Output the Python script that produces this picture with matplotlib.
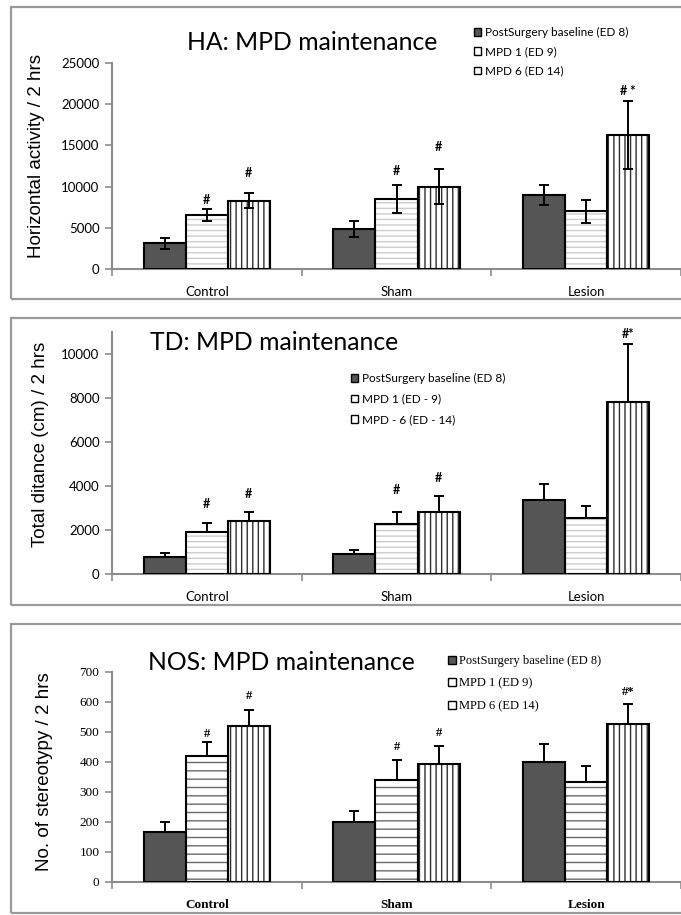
import numpy as np
import matplotlib
matplotlib.use("Agg")
from matplotlib import pyplot as plt
from matplotlib.patches import Rectangle, Patch

W, H = 681, 915

categories = ["Control", "Sham", "Lesion"]

# HA: horizontal activity
ha_labels = ["PostSurgery baseline (ED 8)", "MPD 1 (ED 9)", "MPD 6 (ED 14)"]
ha_base = [3100, 4850, 9000]
ha_base_err = [650, 1000, 1230]
ha_mpd1 = [6550, 8540, 6980]
ha_mpd1_err = [700, 1700, 1400]
ha_mpd6 = [8280, 10000, 16280]
ha_mpd6_err = [920, 2120, 4120]
ha_mpd1_mark = ["#", "#", ""]
ha_mpd1_mark_y = [8400, 11850, 0]
ha_mpd6_mark = ["#", "#", "# *"]
ha_mpd6_mark_y = [11650, 14770, 21600]
ha_yticks = [0, 5000, 10000, 15000, 20000, 25000]

# TD: total distance
td_labels = ["PostSurgery baseline (ED 8)", "MPD 1 (ED - 9)", "MPD - 6 (ED - 14)"]
td_base = [755, 900, 3370]
td_base_err = [195, 200, 720]
td_mpd1 = [1890, 2280, 2540]
td_mpd1_err = [425, 530, 545]
td_mpd6 = [2390, 2840, 7830]
td_mpd6_err = [450, 700, 2620]
td_mpd1_mark = ["#", "#", ""]
td_mpd1_mark_y = [3190, 3820, 0]
td_mpd6_mark = ["#", "#", "#*"]
td_mpd6_mark_y = [3645, 4350, 10900]
td_yticks = [0, 2000, 4000, 6000, 8000, 10000]

# NOS: number of stereotypy
nos_labels = ["PostSurgery baseline (ED 8)", "MPD 1 (ED 9)", "MPD 6 (ED 14)"]
nos_base = [167, 201, 400]
nos_base_err = [32, 35, 60]
nos_mpd1 = [420, 341, 334]
nos_mpd1_err = [47, 66, 54]
nos_mpd6 = [521, 394, 527]
nos_mpd6_err = [54, 60, 66]
nos_mpd1_mark = ["#", "#", ""]
nos_mpd1_mark_y = [494, 451, 0]
nos_mpd6_mark = ["#", "#", "#*"]
nos_mpd6_mark_y = [620, 498, 634]
nos_yticks = [0, 100, 200, 300, 400, 500, 600, 700]

plt.rcParams['hatch.linewidth'] = 1.0

GRAY = '#8c8c8c'
CAT_PX = 194.0   # width of one category in pixels
AX_LEFT = 112

fig = plt.figure(figsize=(W / 100, H / 100), dpi=100)


def px_axes(top, bottom):
	return fig.add_axes([AX_LEFT / W, 1 - bottom / H, (W - AX_LEFT) / W, (bottom - top) / H])


def frame(top, bottom):
	fig.add_artist(Rectangle((11 / W, 1 - bottom / H), 1.2, (bottom - top) / H,
		transform=fig.transFigure, fill=False, edgecolor='#9a9a9a', linewidth=1.6))


def panel(ax, series, errs, marks, mark_ys, ymax, yticks, upper_only, font, xweight, hatch1):
	x = np.arange(len(categories))
	bw = 43 / CAT_PX
	styles = [('#555555', '#555555', None), ('white', hatch1[1], hatch1[0]), ('white', '#2e2e2e', '|||')]
	for i in range(3):
		xs = x + (i - 1) * bw
		face, hcol, hatch = styles[i]
		ax.bar(xs, series[i], bw, color=face, edgecolor=hcol, hatch=hatch, linewidth=0, zorder=2)
		ax.bar(xs, series[i], bw, fill=False, edgecolor='black', linewidth=1.5, zorder=3)
		lo = np.zeros(3) if upper_only else errs[i]
		ax.errorbar(xs, series[i], yerr=[lo, errs[i]], fmt='none', ecolor='black',
			elinewidth=1.4, capsize=3.3, capthick=1.4, zorder=4)
		if i > 0:
			for j in range(3):
				if marks[i - 1][j]:
					ax.text(xs[j], mark_ys[i - 1][j], marks[i - 1][j], ha='center', va='center',
						fontsize=9, family=font, fontweight='bold', zorder=5)

	ax.set_xlim(-0.5, -0.5 + (W - AX_LEFT) / CAT_PX)
	ax.set_ylim(0, ymax)
	ax.set_yticks(yticks)
	ax.set_xticks(x)
	ax.set_xticklabels(categories, family=font, fontsize=9.5, fontweight=xweight)
	ax.set_xticks([-0.5, 0.5, 1.5, 2.5], minor=True)
	ax.tick_params(axis='x', which='major', length=0, pad=12)
	ax.tick_params(axis='x', which='minor', length=5, width=1.2, color=GRAY)
	ax.tick_params(axis='y', length=5, width=1.2, color=GRAY, pad=4)
	for lab in ax.get_yticklabels():
		lab.set_family(font)
		lab.set_fontsize(9.5)
	for s in ['top', 'right']:
		ax.spines[s].set_visible(False)
	for s in ['left', 'bottom']:
		ax.spines[s].set_color(GRAY)
		ax.spines[s].set_linewidth(1.5)
	ax.patch.set_alpha(0)


def legend(labels, left, top, font, size, spacing):
	handles = [Patch(facecolor='#555555', edgecolor='black', linewidth=1.0),
		Patch(facecolor='white', edgecolor='black', linewidth=1.0),
		Patch(facecolor='white', edgecolor='black', linewidth=1.0)]
	fig.legend(handles, labels, loc='upper left', bbox_to_anchor=(left / W, 1 - top / H),
		frameon=False, borderpad=0, borderaxespad=0, handlelength=0.6, handleheight=0.6,
		handletextpad=0.3, labelspacing=spacing, prop={'family': font, 'size': size})


# panel 1 - HA
frame(7, 299)
ax1 = px_axes(63, 269)
panel(ax1, [ha_base, ha_mpd1, ha_mpd6], [ha_base_err, ha_mpd1_err, ha_mpd6_err],
	[ha_mpd1_mark, ha_mpd6_mark], [ha_mpd1_mark_y, ha_mpd6_mark_y], 25000, ha_yticks,
	False, 'Lato', 'normal', ('---', '#cccccc'))
fig.text(187 / W, 1 - 43 / H, "HA: MPD maintenance", fontsize=17.8, family='Lato', va='center')
fig.text(37 / W, 1 - 156 / H, "Horizontal activity / 2 hrs", rotation=90, fontsize=13.5,
	family='Liberation Sans', ha='center', va='center')
legend(ha_labels, 474, 27, 'Lato', 8.5, 0.7)

# panel 2 - TD
frame(318, 605)
ax2 = px_axes(332, 574)
panel(ax2, [td_base, td_mpd1, td_mpd6], [td_base_err, td_mpd1_err, td_mpd6_err],
	[td_mpd1_mark, td_mpd6_mark], [td_mpd1_mark_y, td_mpd6_mark_y], 11000, td_yticks,
	True, 'Lato', 'normal', ('---', '#cccccc'))
fig.text(150 / W, 1 - 342 / H, "TD: MPD maintenance", fontsize=17.8, family='Lato', va='center')
fig.text(41 / W, 1 - 444 / H, "Total ditance (cm) / 2 hrs", rotation=90, fontsize=13.5,
	family='Liberation Sans', ha='center', va='center')
legend(td_labels, 351, 373, 'Lato', 8.5, 0.8)

# panel 3 - NOS
frame(624, 913)
ax3 = px_axes(672, 882)
panel(ax3, [nos_base, nos_mpd1, nos_mpd6], [nos_base_err, nos_mpd1_err, nos_mpd6_err],
	[nos_mpd1_mark, nos_mpd6_mark], [nos_mpd1_mark_y, nos_mpd6_mark_y], 700, nos_yticks,
	True, 'Liberation Serif', 'bold', ('--', '#6a6a6a'))
fig.text(148 / W, 1 - 662 / H, "NOS: MPD maintenance", fontsize=17.8, family='Lato', va='center')
fig.text(45 / W, 1 - 772 / H, "No. of stereotypy / 2 hrs", rotation=90, fontsize=13.5,
	family='Liberation Sans', ha='center', va='center')
legend(nos_labels, 448, 655, 'Liberation Serif', 9, 0.85)

fig.savefig("out.png", dpi=100)
